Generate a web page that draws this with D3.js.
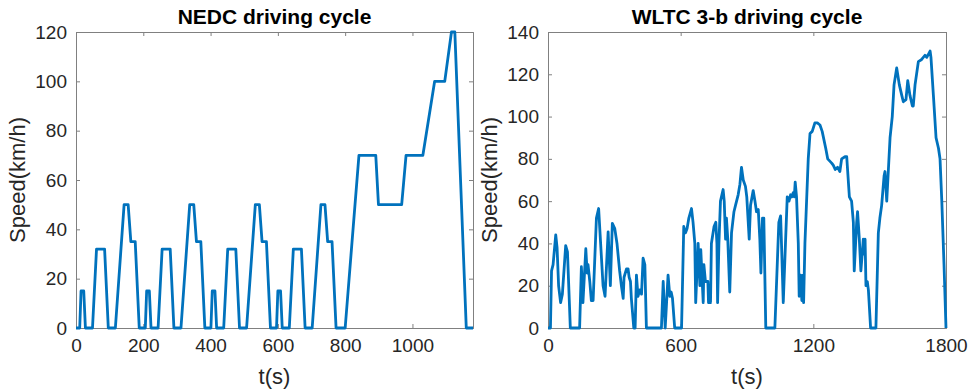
<!DOCTYPE html>
<html>
<head>
<meta charset="utf-8">
<script src="https://cdn.jsdelivr.net/npm/d3@7"></script>
<style>
  body { margin: 0; background: #fff; }
  svg { display: block; }
  .tick text { font-family: "Liberation Sans", Arial, sans-serif; font-size: 19px; fill: #262626; }
  .tick line { stroke: #808080; }
  .domain { stroke: #808080; }
</style>
</head>
<body>
<div id="chart"></div>
<script>
// NEDC: 4 x ECE-15 urban + EUDC
const nedcTime = [
  0, 11, 15, 23, 28, 49, 61, 85, 96, 117, 143, 155, 163, 176, 188,
  206, 210, 218, 223, 244, 256, 280, 291, 312, 338, 350, 358, 371, 383,
  401, 405, 413, 418, 439, 451, 475, 486, 507, 533, 545, 553, 566, 578,
  596, 600, 608, 613, 634, 646, 670, 681, 702, 728, 740, 748, 761, 773,
  800, 841, 891, 899, 968, 981, 1031, 1066, 1096, 1116, 1126, 1160, 1180
];
const nedcSpeed = [
  0, 0, 15, 15, 0, 0, 32, 32, 0, 0, 50, 50, 35, 35, 0,
  0, 15, 15, 0, 0, 32, 32, 0, 0, 50, 50, 35, 35, 0,
  0, 15, 15, 0, 0, 32, 32, 0, 0, 50, 50, 35, 35, 0,
  0, 15, 15, 0, 0, 32, 32, 0, 0, 50, 50, 35, 35, 0,
  0, 70, 70, 50, 50, 70, 70, 100, 100, 120, 120, 0, 0
];

// WLTC class 3b
const wltcTime = [
  0, 11, 16, 23, 35, 41, 48, 57, 65, 80, 88, 101, 143, 151, 158, 171, 177, 181, 189, 196,
  204, 219, 229, 238, 249, 258, 272, 282, 291, 302, 312, 324, 332, 340, 344, 355, 362, 367, 373, 377,
  388, 394, 400, 407, 415, 423, 430, 438, 445, 513, 521, 530, 543, 551, 557, 563, 573, 604, 614, 622,
  629, 637, 649, 656, 664, 668, 679, 687, 691, 702, 705, 712, 723, 726, 732, 735, 739, 751, 759, 764,
  767, 773, 780, 792, 797, 803, 807, 813, 822, 830, 841, 848, 860, 868, 875, 883, 893, 899, 910, 916,
  928, 936, 943, 951, 958, 963, 970, 973, 976, 985, 1026, 1044, 1052, 1056, 1064, 1074, 1082, 1090, 1097, 1103,
  1109, 1114, 1118, 1124, 1132, 1136, 1142, 1148, 1153, 1156, 1162, 1177, 1185, 1195, 1207, 1218, 1230, 1240, 1256, 1265,
  1283, 1290, 1299, 1310, 1320, 1328, 1343, 1351, 1363, 1373, 1381, 1385, 1396, 1400, 1408, 1415, 1421, 1426, 1429, 1434,
  1438, 1444, 1449, 1459, 1483, 1494, 1501, 1509, 1520, 1524, 1532, 1547, 1557, 1565, 1577, 1589, 1600, 1607, 1619, 1627,
  1637, 1648, 1652, 1660, 1675, 1690, 1705, 1713, 1728, 1732, 1743, 1755, 1766, 1773, 1781, 1791, 1800
];
const wltcSpeed = [
  0, 0, 27, 30, 44, 38, 20, 12, 16, 39, 36, 0, 0, 29, 12, 37.5, 26, 30, 22, 13,
  13, 52, 56.5, 40, 20, 15, 45.5, 20, 49.5, 47, 40, 27, 20, 14, 24, 28, 28, 24, 22, 14,
  0, 0, 25, 15, 18, 16, 33, 30, 0, 0, 22, 0, 25, 15, 17, 14, 0, 0, 48, 45,
  47, 52, 56.5, 50, 40, 12, 40, 20, 37, 12, 30, 22, 22, 12, 20, 12, 40, 48, 50, 40,
  12, 40, 60, 65.5, 60, 42, 52, 42, 17, 45, 55, 58, 63, 68, 76, 70, 67, 62, 42, 58,
  65, 60, 55, 56, 42, 26, 52, 40, 52, 0, 0, 50, 53, 40, 12, 40, 62, 60, 63, 62,
  64, 62, 69, 62, 40, 15, 25, 13, 25, 12, 40, 80, 92, 93, 97, 97, 96, 93, 85, 80,
  78, 77, 75, 76, 74, 80, 81, 81, 62, 60, 50, 27, 50, 55, 42, 27, 35, 42, 35, 42,
  20, 22, 18, 0, 0, 45, 52, 58, 72, 74, 60, 90, 100, 115, 123, 115, 110, 107, 108, 117,
  110, 105, 105, 115, 126, 127, 129, 128, 131, 128, 110, 90, 85, 80, 60, 30, 0
];

const nedcXTicks = [0, 200, 400, 600, 800, 1000];
const nedcYTicks = [0, 20, 40, 60, 80, 100, 120];
const wltcXTicks = [0, 600, 1200, 1800];
const wltcYTicks = [0, 20, 40, 60, 80, 100, 120, 140];

const W = 971, H = 390;
const svg = d3.select("#chart").append("svg").attr("width", W).attr("height", H);
const fmt = d3.format("d");

function drawPanel(opt) {
  const left = opt.left, top = 32, width = opt.width, height = 296;
  const g = svg.append("g").attr("transform", "translate(" + left + "," + top + ")");

  const x = d3.scaleLinear().domain(opt.xDomain).range([0, width]);
  const y = d3.scaleLinear().domain(opt.yDomain).range([height, 0]);

  // box + ticks on all four sides, pointing inward
  g.append("g").attr("transform", "translate(0," + height + ")")
    .call(d3.axisBottom(x).tickValues(opt.xTicks).tickSize(-4).tickPadding(11).tickFormat(fmt));
  g.append("g").attr("transform", "translate(0,0)")
    .call(d3.axisTop(x).tickValues(opt.xTicks).tickSize(-4).tickFormat(""));
  g.append("g")
    .call(d3.axisLeft(y).tickValues(opt.yTicks).tickSize(-4).tickPadding(9).tickFormat(fmt));
  g.append("g").attr("transform", "translate(" + width + ",0)")
    .call(d3.axisRight(y).tickValues(opt.yTicks).tickSize(-4).tickFormat(""));
  g.selectAll(".domain").attr("stroke", "#808080");

  const pts = opt.time.map((t, i) => [t, opt.speed[i]]);
  g.append("path")
    .datum(pts)
    .attr("fill", "none")
    .attr("stroke", "#0072BD")
    .attr("stroke-width", 2.8)
    .attr("stroke-linejoin", "round")
    .attr("d", d3.line().x(d => x(d[0])).y(d => y(d[1])));

  svg.append("text")
    .attr("x", left + width / 2).attr("y", 24)
    .attr("text-anchor", "middle")
    .style("font-family", "Liberation Sans, Arial, sans-serif")
    .style("font-weight", "bold").style("font-size", "21px")
    .attr("fill", "#000")
    .text(opt.title);

  svg.append("text")
    .attr("x", left + width / 2).attr("y", 384)
    .attr("text-anchor", "middle")
    .style("font-family", "Liberation Sans, Arial, sans-serif")
    .style("font-size", "22px").attr("fill", "#262626")
    .text("t(s)");

  svg.append("text")
    .attr("transform", "translate(" + (left - 51) + "," + (top + height / 2) + ") rotate(-90)")
    .attr("text-anchor", "middle")
    .style("font-family", "Liberation Sans, Arial, sans-serif")
    .style("font-size", "22px").attr("fill", "#262626")
    .text("Speed(km/h)");
}

drawPanel({
  left: 76, width: 397, title: "NEDC driving cycle",
  xDomain: [0, 1180], yDomain: [0, 120],
  xTicks: nedcXTicks, yTicks: nedcYTicks,
  time: nedcTime, speed: nedcSpeed
});
drawPanel({
  left: 548, width: 398, title: "WLTC 3-b driving cycle",
  xDomain: [0, 1800], yDomain: [0, 140],
  xTicks: wltcXTicks, yTicks: wltcYTicks,
  time: wltcTime, speed: wltcSpeed
});
</script>
</body>
</html>
